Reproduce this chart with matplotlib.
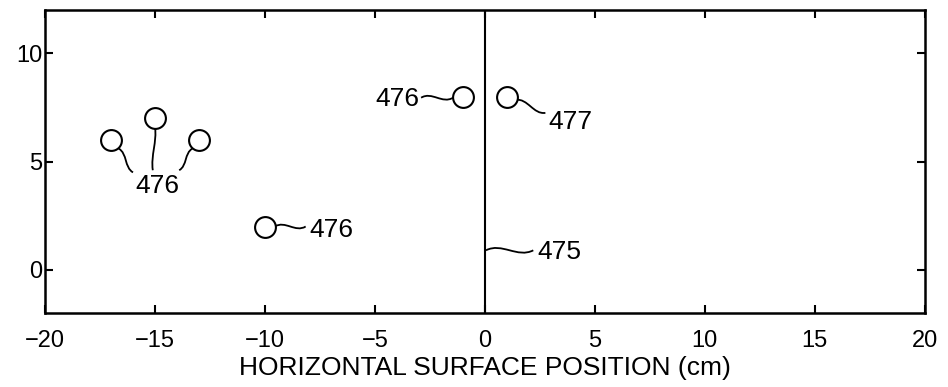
import matplotlib
matplotlib.use("Agg")
import matplotlib.pyplot as plt
from matplotlib.path import Path
from matplotlib.patches import PathPatch

plt.rcParams['font.family'] = ['Liberation Sans', 'DejaVu Sans']

# Data: source positions (cm)
src_x = [-17, -15, -13, -10, -1, 1]
src_y = [6, 7, 6, 2, 8, 8]
boundary_x = 0
x_ticks = [-20, -15, -10, -5, 0, 5, 10, 15, 20]
y_ticks = [0, 5, 10]
xlabel = "HORIZONTAL SURFACE POSITION (cm)"

fig = plt.figure(figsize=(9.48, 3.87), dpi=100)
ax = fig.add_axes([0.0475, 0.191, 0.928, 0.783])
ax.set_xlim(-20, 20)
ax.set_ylim(-2, 12)

ax.plot(src_x, src_y, 'o', ms=15, mfc='white', mec='black', mew=1.5, zorder=3)
ax.axvline(boundary_x, color='black', lw=1.5)

ax.set_xticks(x_ticks)
ax.set_xticklabels(['\u221220', '\u221215', '\u221210', '\u22125', '0', '5', '10', '15', '20'])
ax.set_yticks(y_ticks)
ax.tick_params(direction='in', top=True, right=True, length=6, width=1.5,
               labelsize=17)
ax.tick_params(axis='x', pad=12)
ax.tick_params(axis='y', pad=2)
for s in ax.spines.values():
    s.set_linewidth(1.8)
ax.set_xlabel(xlabel, fontsize=19, labelpad=3)


def squiggle(p0, p1, bend=0.35):
    (x0, y0), (x1, y1) = p0, p1
    dx, dy = x1 - x0, y1 - y0
    px, py = -dy * 0.55, dx * 0.7
    c1 = (x0 + dx / 3 + px * bend, y0 + dy / 3 + py * bend)
    c2 = (x0 + 2 * dx / 3 - px * bend, y0 + 2 * dy / 3 - py * bend)
    path = Path([p0, c1, c2, p1], [Path.MOVETO, Path.CURVE4, Path.CURVE4, Path.CURVE4])
    ax.add_patch(PathPatch(path, fc='none', ec='black', lw=1.3))


fs = 19
# group label
ax.text(-14.9, 3.85, '476', fontsize=fs, ha='center', va='center')
squiggle((-16.65, 5.6), (-16.0, 4.5), 0.3)
squiggle((-15.0, 6.6), (-15.1, 4.6), 0.12)
squiggle((-13.3, 5.6), (-13.9, 4.6), -0.3)
# (-10,2)
ax.text(-8.0, 1.85, '476', fontsize=fs, ha='left', va='center')
squiggle((-9.55, 2.0), (-8.15, 2.0), 0.3)
# (-1,8)
ax.text(-3.0, 7.9, '476', fontsize=fs, ha='right', va='center')
squiggle((-2.9, 7.95), (-1.45, 7.95), 0.3)
# (1,8)
ax.text(2.9, 6.85, '477', fontsize=fs, ha='left', va='center')
squiggle((1.4, 7.85), (2.75, 7.25), 0.3)
# boundary
ax.text(2.4, 0.8, '475', fontsize=fs, ha='left', va='center')
squiggle((0.05, 0.9), (2.2, 0.9), 0.25)

fig.savefig('out.png', dpi=100)
